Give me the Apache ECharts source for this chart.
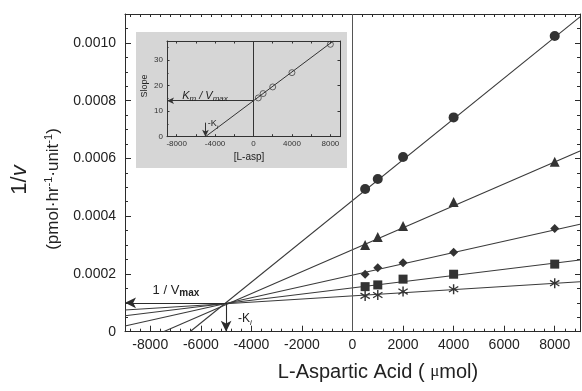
<!DOCTYPE html>
<html>
<head>
  <meta charset="utf-8">
  <title>Lineweaver-Burk L-Aspartic Acid</title>
  <script src="https://cdn.jsdelivr.net/npm/echarts@6/dist/echarts.min.js"></script>
  <style>
    body { margin: 0; padding: 0; background: #fff; }
    #main { width: 582px; height: 391px; }
  </style>
</head>
<body>
  <div id="main"></div>
  <script type="text/javascript">
    // concentrations of L-asp (umol)
    var xConc = [500, 1000, 2000, 4000, 8000];
    // 1/v values per inhibitor series
    var circleVals = [0.000494, 0.000529, 0.000605, 0.000742, 0.001024];
    var triangleVals = [0.000300, 0.000328, 0.000366, 0.000449, 0.000588];
    var diamondVals = [0.000199, 0.000221, 0.000239, 0.000275, 0.000357];
    var squareVals = [0.000156, 0.000162, 0.000182, 0.000199, 0.000234];
    var starVals = [0.000124, 0.000127, 0.000139, 0.000147, 0.000168];
    // fitted lines, end points
    var circleFit = [[-6430, 0], [9000, 0.00109]];
    var triangleFit = [[-7480, 0], [9000, 0.000626]];
    var diamondFit = [[-9000, 0.00002], [9000, 0.000372]];
    var squareFit = [[-9000, 0.000055], [9000, 0.000248]];
    var starFit = [[-9000, 0.000075], [9000, 0.000173]];
    var xTickLabels = [-8000, -6000, -4000, -2000, 0, 2000, 4000, 6000, 8000];
    var yTickLabels = [0, 0.0002, 0.0004, 0.0006, 0.0008, 0.0010];
    var convergePt = [-5000, 0.0001];

    // inset: slope replot
    var insetX = [500, 1000, 2000, 4000, 8000];
    var insetSlope = [15.2, 16.9, 19.5, 25.1, 36.2];
    var insetFit = [[-5000, 0], [8300, 37.5]];
    var insetXLabels = [-8000, -4000, 0, 4000, 8000];
    var insetYLabels = [0, 10, 20, 30];
    var insetKmVmax = 14.1;

    var FONT = 'Liberation Sans, Arial, sans-serif';
    var INK = '#2b2b2b';

    var minorX = [];
    for (var t = -8800; t <= 8800; t += 400) minorX.push(t);
    var insetMinorX = [];
    for (var t2 = -8000; t2 <= 8000; t2 += 2000) insetMinorX.push(t2);

    var asterisk = 'path://M4.4,0 H5.6 V3.55 L8.6,1.5 L9.2,2.5 L6.2,4.5 L9.2,6.5 L8.6,7.5 L5.6,5.45 V9 H4.4 V5.45 L1.4,7.5 L0.8,6.5 L3.8,4.5 L0.8,2.5 L1.4,1.5 L4.4,3.55 Z';

    function plain(v) { return String(v); }

    function pts(xs, ys) {
      var out = [];
      for (var i = 0; i < xs.length; i++) out.push([xs[i], ys[i]]);
      return out;
    }

    function fitLine(d) {
      return {
        type: 'line', data: d, symbol: 'none', silent: true, z: 1,
        xAxisIndex: 0, yAxisIndex: 0,
        lineStyle: { color: '#3a3a3a', width: 1.1 }
      };
    }

    function marks(d, sym, size) {
      return {
        type: 'scatter', data: d, symbol: sym, symbolSize: size, z: 3,
        xAxisIndex: 0, yAxisIndex: 0,
        itemStyle: { color: '#333', opacity: 1 }
      };
    }

    var arrowLine = { color: INK, width: 1.1, type: 'solid' };

    var myChart = echarts.init(document.getElementById('main'));
    var option = {
      animation: false,
      backgroundColor: '#fff',
      grid: [
        { left: 125, top: 14, width: 455, height: 317.7 },
        { left: 167, top: 41, width: 173, height: 95.7 }
      ],
      xAxis: [
        {
          gridIndex: 0, type: 'value', position: 'bottom', min: -9000, max: 9000,
          axisLine: { show: true, onZero: false, lineStyle: { color: INK, width: 1 } },
          axisTick: { show: true, inside: true, length: 6, customValues: xTickLabels, lineStyle: { color: INK } },
          axisLabel: { customValues: xTickLabels, formatter: plain, color: '#222', fontSize: 14, fontFamily: FONT, margin: 6 },
          splitLine: { show: false }
        },
        {
          gridIndex: 0, type: 'value', position: 'bottom', min: -9000, max: 9000,
          axisLine: { show: false, onZero: false },
          axisTick: { show: true, inside: true, length: 3, customValues: minorX, lineStyle: { color: INK } },
          axisLabel: { show: false },
          splitLine: { show: false }
        },
        {
          gridIndex: 0, type: 'value', position: 'top', min: -9000, max: 9000,
          axisLine: { show: true, onZero: false, lineStyle: { color: INK, width: 1 } },
          axisTick: { show: true, inside: true, length: 3, customValues: minorX, lineStyle: { color: INK } },
          axisLabel: { show: false },
          splitLine: { show: false }
        },
        {
          gridIndex: 1, type: 'value', position: 'bottom', min: -9000, max: 9000,
          axisLine: { show: true, onZero: false, lineStyle: { color: '#333', width: 1 } },
          axisTick: { show: true, inside: true, length: 2.5, customValues: insetMinorX, lineStyle: { color: '#333' } },
          axisLabel: { customValues: insetXLabels, formatter: plain, color: '#333', fontSize: 8, fontFamily: FONT, margin: 3 },
          splitLine: { show: false }
        },
        {
          gridIndex: 1, type: 'value', position: 'top', min: -9000, max: 9000,
          axisLine: { show: true, onZero: false, lineStyle: { color: '#333', width: 1 } },
          axisTick: { show: true, inside: true, length: 2.5, customValues: insetMinorX, lineStyle: { color: '#333' } },
          axisLabel: { show: false },
          splitLine: { show: false }
        }
      ],
      yAxis: [
        {
          gridIndex: 0, type: 'value', position: 'left', min: 0, max: 0.0011, interval: 0.0002,
          axisLine: { show: true, onZero: false, lineStyle: { color: INK, width: 1 } },
          axisTick: { show: true, inside: true, length: 6, lineStyle: { color: INK } },
          minorTick: { show: true, splitNumber: 4, length: 3, lineStyle: { color: INK } },
          axisLabel: {
            customValues: yTickLabels,
            color: '#222', fontSize: 14, fontFamily: FONT, margin: 9,
            formatter: function (v) { return v === 0 ? '0' : v.toFixed(4); }
          },
          splitLine: { show: false }, minorSplitLine: { show: false }
        },
        {
          gridIndex: 0, type: 'value', position: 'right', min: 0, max: 0.0011, interval: 0.0002,
          axisLine: { show: true, onZero: false, lineStyle: { color: INK, width: 1 } },
          axisTick: { show: true, inside: true, length: 5, lineStyle: { color: INK } },
          minorTick: { show: true, splitNumber: 4, length: 3, lineStyle: { color: INK } },
          axisLabel: { show: false },
          splitLine: { show: false }, minorSplitLine: { show: false }
        },
        {
          gridIndex: 1, type: 'value', position: 'left', min: 0, max: 37.5, interval: 10,
          axisLine: { show: true, onZero: false, lineStyle: { color: '#333', width: 1 } },
          axisTick: { show: true, inside: true, length: 2.5, lineStyle: { color: '#333' } },
          minorTick: { show: true, splitNumber: 2, length: 1.5, lineStyle: { color: '#333' } },
          axisLabel: { customValues: insetYLabels, formatter: plain, color: '#333', fontSize: 8, fontFamily: FONT, margin: 4 },
          splitLine: { show: false }, minorSplitLine: { show: false }
        },
        {
          gridIndex: 1, type: 'value', position: 'right', min: 0, max: 37.5, interval: 10,
          axisLine: { show: true, onZero: false, lineStyle: { color: '#333', width: 1 } },
          axisTick: { show: true, inside: true, length: 2.5, lineStyle: { color: '#333' } },
          axisLabel: { show: false },
          splitLine: { show: false }
        }
      ],
      series: [
        fitLine(circleFit),
        fitLine(triangleFit),
        fitLine(diamondFit),
        fitLine(squareFit),
        fitLine(starFit),
        marks(pts(xConc, circleVals), 'circle', 10),
        marks(pts(xConc, triangleVals), 'triangle', 10),
        marks(pts(xConc, diamondVals), 'diamond', 9),
        marks(pts(xConc, squareVals), 'rect', 9),
        marks(pts(xConc, starVals), asterisk, 10),
        {
          // annotations on main plot
          type: 'line', data: [], xAxisIndex: 0, yAxisIndex: 0, silent: true,
          markLine: {
            silent: true, animation: false,
            label: { show: false },
            lineStyle: arrowLine,
            data: [
              [{ coord: [0, 0], symbol: 'none' }, { coord: [0, 0.0011], symbol: 'none', lineStyle: { color: '#555', width: 1 } }],
              [{ coord: convergePt, symbol: 'none' }, { coord: [-9000, convergePt[1]], symbol: 'arrow', symbolSize: [8, 11] }],
              [{ coord: convergePt, symbol: 'none' }, { coord: [convergePt[0], 0], symbol: 'arrow', symbolSize: [8, 11] }]
            ]
          }
        },
        {
          type: 'line', data: insetFit, xAxisIndex: 3, yAxisIndex: 2, symbol: 'none', silent: true, z: 4,
          lineStyle: { color: '#333', width: 1 }
        },
        {
          type: 'scatter', data: pts(insetX, insetSlope), xAxisIndex: 3, yAxisIndex: 2, z: 5,
          symbol: 'circle', symbolSize: 6,
          itemStyle: { color: 'rgba(0,0,0,0)', borderColor: '#333', borderWidth: 0.9 }
        },
        {
          type: 'line', data: [], xAxisIndex: 3, yAxisIndex: 2, silent: true, z: 4,
          markLine: {
            silent: true, animation: false,
            label: { show: false },
            lineStyle: { color: '#333', width: 1, type: 'solid' },
            data: [
              [{ coord: [0, 0], symbol: 'none' }, { coord: [0, 37.5], symbol: 'none' }],
              [{ coord: [0, insetKmVmax], symbol: 'none' }, { coord: [-9000, insetKmVmax], symbol: 'arrow', symbolSize: [5, 7] }],
              [{ coord: [-5000, 5.5], symbol: 'none' }, { coord: [-5000, 0], symbol: 'arrow', symbolSize: [5, 7] }]
            ]
          }
        }
      ],
      graphic: [
        {
          type: 'rect', z: -10, silent: true,
          shape: { x: 136, y: 32, width: 211, height: 136 },
          style: { fill: '#d6d6d6' }
        },
        {
          type: 'text', x: 20, y: 180, rotation: Math.PI / 2,
          style: {
            text: '1/{it|v}', fontSize: 22, fontFamily: FONT, fill: '#222',
            textAlign: 'center', textVerticalAlign: 'middle',
            rich: { it: { fontStyle: 'italic', fontSize: 22, fontFamily: FONT } }
          }
        },
        {
          type: 'text', x: 53, y: 189, rotation: Math.PI / 2,
          style: {
            text: '(pmol·hr{sup|-1}·unit{sup|-1})', fontSize: 17, fontFamily: FONT, fill: '#222',
            textAlign: 'center', textVerticalAlign: 'middle', lineHeight: 20,
            rich: { sup: { fontSize: 11, fontFamily: FONT, verticalAlign: 'top', lineHeight: 20 } }
          }
        },
        {
          type: 'text', x: 378, y: 372,
          style: {
            text: 'L-Aspartic Acid ( {mu|μ}mol)', fontSize: 20, fontFamily: FONT, fill: '#222',
            textAlign: 'center', textVerticalAlign: 'middle',
            rich: { mu: { fontSize: 17, fontFamily: 'Liberation Serif, serif' } }
          }
        },
        {
          type: 'text', x: 176, y: 290,
          style: {
            text: '1 / V{sub|max}', fontSize: 13, fontFamily: FONT, fill: '#222',
            textAlign: 'center', textVerticalAlign: 'middle', lineHeight: 16,
            rich: { sub: { fontSize: 10, fontWeight: 'bold', fontFamily: FONT, verticalAlign: 'bottom', lineHeight: 16 } }
          }
        },
        {
          type: 'text', x: 245, y: 319,
          style: {
            text: '-K{sub|i}', fontSize: 12, fontFamily: FONT, fill: '#222',
            textAlign: 'center', textVerticalAlign: 'middle', lineHeight: 15,
            rich: { sub: { fontSize: 8, fontStyle: 'italic', fontFamily: FONT, verticalAlign: 'bottom', lineHeight: 15 } }
          }
        },
        {
          type: 'text', x: 145, y: 86, rotation: Math.PI / 2, z: 10,
          style: {
            text: 'Slope', fontSize: 9, fontFamily: FONT, fill: '#222',
            textAlign: 'center', textVerticalAlign: 'middle'
          }
        },
        {
          type: 'text', x: 249, y: 157, z: 10,
          style: {
            text: '[L-asp]', fontSize: 10, fontFamily: FONT, fill: '#222',
            textAlign: 'center', textVerticalAlign: 'middle'
          }
        },
        {
          type: 'text', x: 205, y: 96, z: 10,
          style: {
            text: 'K{sub|m} / V{sub|max}', fontSize: 11, fontStyle: 'italic', fontFamily: FONT, fill: '#222',
            textAlign: 'center', textVerticalAlign: 'middle', lineHeight: 14,
            rich: { sub: { fontSize: 8, fontStyle: 'italic', fontFamily: FONT, verticalAlign: 'bottom', lineHeight: 14 } }
          }
        },
        {
          type: 'text', x: 213, y: 124, z: 10,
          style: {
            text: '-K{sub|i}', fontSize: 9, fontFamily: FONT, fill: '#222',
            textAlign: 'center', textVerticalAlign: 'middle', lineHeight: 12,
            rich: { sub: { fontSize: 6, fontStyle: 'italic', fontFamily: FONT, verticalAlign: 'bottom', lineHeight: 12 } }
          }
        }
      ]
    };
    myChart.setOption(option);
  </script>
</body>
</html>
